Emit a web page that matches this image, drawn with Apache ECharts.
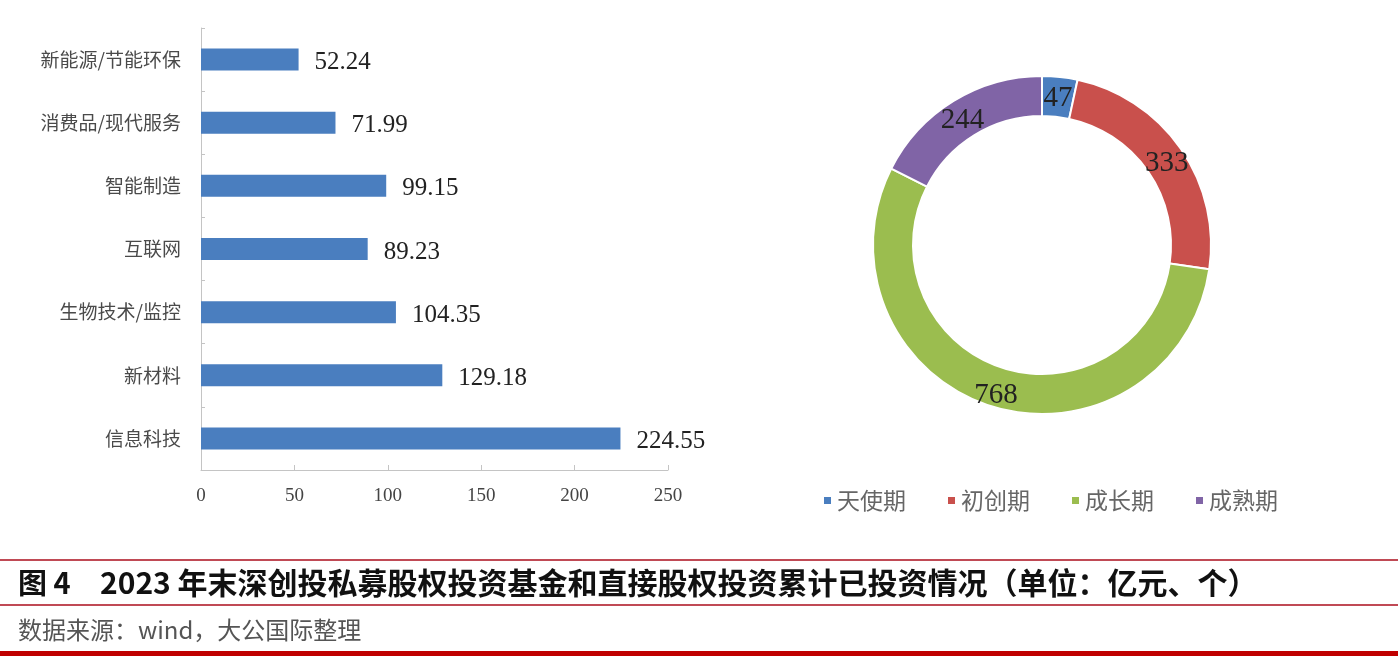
<!DOCTYPE html>
<html>
<head>
<meta charset="utf-8">
<script src="https://cdn.jsdelivr.net/npm/echarts@6/dist/echarts.min.js"></script>
<style>
  html, body { margin: 0; padding: 0; background: #fff; }
  #main { width: 1398px; height: 656px; }
</style>
</head>
<body>
<div id="main"></div>
<script>
// 行业分布（亿元）
var categories = ['新能源/节能环保', '消费品/现代服务', '智能制造', '互联网', '生物技术/监控', '新材料', '信息科技'];
var amounts = [52.24, 71.99, 99.15, 89.23, 104.35, 129.18, 224.55];
var xTicks = [0, 50, 100, 150, 200, 250];

// 投资阶段（个）
var stages = ['天使期', '初创期', '成长期', '成熟期'];
var stageCounts = [47, 333, 768, 244];
var stageColors = ['#4a7ebf', '#c9504c', '#9bbd4f', '#8064a6'];

var cjk = '"Noto Sans CJK SC", sans-serif';
var serif = '"Liberation Serif", "DejaVu Serif", serif';

var myChart = echarts.init(document.getElementById('main'));

var pieData = stages.map(function (name, i) {
  return { name: name, value: stageCounts[i], itemStyle: { color: stageColors[i] } };
});

var option = {
  backgroundColor: '#fff',
  animation: false,
  grid: { left: 201, right: 730, top: 28, bottom: 186 },
  xAxis: {
    type: 'value',
    min: xTicks[0],
    max: xTicks[xTicks.length - 1],
    interval: 50,
    splitLine: { show: false },
    axisLine: { show: true, lineStyle: { color: '#c4c4c4', width: 1 } },
    axisTick: { show: true, inside: true, length: 5, lineStyle: { color: '#c4c4c4' } },
    axisLabel: { margin: 17, fontFamily: serif, fontSize: 19, color: '#444' }
  },
  yAxis: {
    type: 'category',
    inverse: true,
    data: categories,
    axisLine: { show: true, lineStyle: { color: '#c4c4c4', width: 1 } },
    axisTick: { show: true, inside: true, length: 4, lineStyle: { color: '#c4c4c4' } },
    axisLabel: { margin: 20, fontFamily: cjk, fontSize: 19, color: '#4a4a4a' }
  },
  legend: {
    data: stages,
    left: 817,
    top: 484,
    itemWidth: 9,
    itemHeight: 9,
    itemGap: 40,
    icon: 'rect',
    textStyle: { fontFamily: cjk, fontSize: 23, color: '#666' }
  },
  series: [
    {
      type: 'bar',
      data: amounts,
      barWidth: 22,
      itemStyle: { color: '#4a7ebf' },
      label: {
        show: true,
        position: 'right',
        distance: 16,
        offset: [0, 3],
        fontFamily: serif,
        fontSize: 25,
        color: '#222',
        formatter: function (p) { return p.value.toFixed(2); }
      }
    },
    {
      type: 'pie',
      center: [1042, 245],
      radius: [129, 169],
      startAngle: 90,
      clockwise: true,
      data: pieData,
      itemStyle: { borderColor: '#fff', borderWidth: 2 },
      label: {
        show: true,
        position: 'inside',
        offset: [0, 5],
        fontFamily: serif,
        fontSize: 29,
        color: '#222',
        formatter: '{c}'
      },
      labelLine: { show: false }
    }
  ],
  graphic: [
    { type: 'rect', left: 0, top: 559, shape: { width: 1398, height: 2 }, style: { fill: '#c04a55' } },
    {
      type: 'text', x: 18, y: 583,
      style: {
        text: '图 4',
        font: 'bold 29px "Noto Sans CJK SC", sans-serif',
        fill: '#111',
        verticalAlign: 'middle'
      }
    },
    {
      type: 'text', x: 100, y: 583,
      style: {
        text: '2023 年末深创投私募股权投资基金和直接股权投资累计已投资情况（单位：亿元、个）',
        font: 'bold 30px "Noto Sans CJK SC", sans-serif',
        fill: '#111',
        verticalAlign: 'middle'
      }
    },
    { type: 'rect', left: 0, top: 604, shape: { width: 1398, height: 2 }, style: { fill: '#c04a55' } },
    {
      type: 'text', x: 18, y: 630,
      style: {
        text: '数据来源：wind，大公国际整理',
        font: '24px "Noto Sans CJK SC", sans-serif',
        fill: '#555',
        verticalAlign: 'middle'
      }
    },
    { type: 'rect', left: 0, top: 651, shape: { width: 1398, height: 5 }, style: { fill: '#c00000' } }
  ]
};

myChart.setOption(option);
</script>
</body>
</html>
